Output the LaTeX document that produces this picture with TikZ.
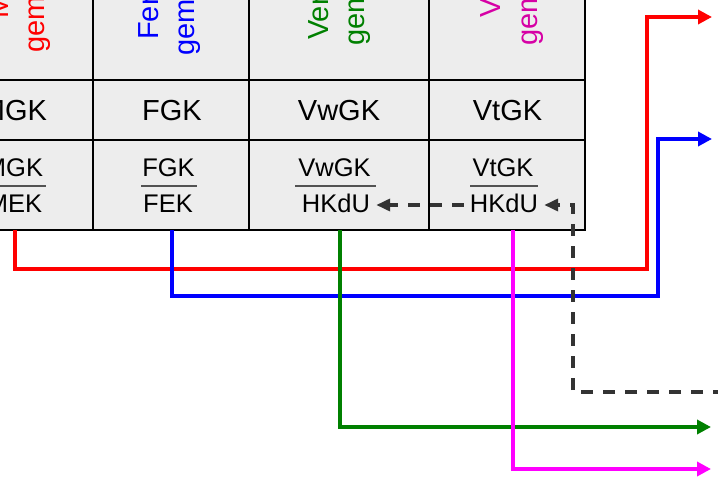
\documentclass[tikz,border=0pt]{standalone}
\usepackage{fontspec}
\setmainfont{Liberation Sans}
\usetikzlibrary{arrows.meta}
\definecolor{cellgray}{RGB}{237,237,237}
\definecolor{dashgray}{RGB}{51,51,51}
\definecolor{mgkred}{RGB}{255,0,0}
\definecolor{fgkblue}{RGB}{0,0,255}
\definecolor{vwgkgreen}{RGB}{0,128,0}
\definecolor{vtgktext}{RGB}{214,0,165}
\definecolor{vtgkline}{RGB}{255,0,255}
\tikzset{
  headtext/.style={rotate=90,anchor=base west,inner sep=0pt,font=\fontsize{29bp}{36bp}\selectfont},
  rowtext/.style={anchor=base,inner sep=0pt,font=\fontsize{29bp}{36bp}\selectfont},
  fractext/.style={anchor=base,inner sep=0pt,font=\fontsize{25.5bp}{30bp}\selectfont},
  fracline/.style={draw=dashgray!85,line width=1.5bp},
  gridline/.style={line width=2.5bp},
  flowline/.style={line width=3.5bp,-{Triangle[length=14bp,width=14bp]}},
  backline/.style={color=dashgray,line width=3.5bp,dash pattern=on 12bp off 10bp,-{Triangle[length=14bp,width=12bp]}},
}
\begin{document}
\begin{tikzpicture}[x=1bp,y=-1bp,line join=miter]
\useasboundingbox (0,0) rectangle (718,481);
\clip (0,0) rectangle (718,481);
%% table
\filldraw [fill=cellgray,draw=black,gridline] (-65,-200) rectangle (585,230);
\draw [gridline] (-65,80) -- (585,80);
\draw [gridline] (-65,140) -- (585,140);
\draw [gridline] (93,-200) -- (93,230);
\draw [gridline] (249,-200) -- (249,230);
\draw [gridline] (429,-200) -- (429,230);
%% headers
\node (head_m1) at (8,19) [headtext,text=mgkred] {Material-};
\node (head_m2) at (44,53) [headtext,text=mgkred] {gemeinkosten};
\node (head_f1) at (158,40) [headtext,text=fgkblue] {Fertigungs-};
\node (head_f2) at (194,56) [headtext,text=fgkblue] {gemeinkosten};
\node (head_vw1) at (328,40) [headtext,text=vwgkgreen] {Verwaltungs-};
\node (head_vw2) at (364,46) [headtext,text=vwgkgreen] {gemeinkosten};
\node (head_vt1) at (500,18) [headtext,text=vtgktext] {Vertriebs-};
\node (head_vt2) at (537,46) [headtext,text=vtgktext] {gemeinkosten};
%% short names
\node (mgk) at (14,121) [rowtext] {MGK};
\node (fgk) at (172,121) [rowtext] {FGK};
\node (vwgk) at (339,121) [rowtext] {VwGK};
\node (vtgk) at (507.5,121) [rowtext] {VtGK};
%% rates
\node (mgk_num) at (14,177) [fractext] {MGK};
\node (mgk_den) at (14.5,213) [fractext] {MEK};
\node (fgk_num) at (168.5,177) [fractext] {FGK};
\node (fgk_den) at (168,213) [fractext] {FEK};
\node (vwgk_num) at (334.5,177) [fractext] {VwGK};
\node (vwgk_den) at (336,213) [fractext] {HKdU};
\node (vtgk_num) at (503,177) [fractext] {VtGK};
\node (vtgk_den) at (504,213) [fractext] {HKdU};
\draw [fracline] (-17,186) -- (46,186);
\draw [fracline] (141,186) -- (197,186);
\draw [fracline] (295,186) -- (376,186);
\draw [fracline] (470,186) -- (538,186);
%% connectors
\coordinate (mgk_out) at (15,230);
\coordinate (mgk_end) at (712,17);
\coordinate (fgk_out) at (172,230);
\coordinate (fgk_end) at (712,139);
\coordinate (vwgk_out) at (340,230);
\coordinate (vwgk_end) at (711,427);
\coordinate (vtgk_out) at (513,230);
\coordinate (vtgk_end) at (711,469);
\coordinate (hkdu_in) at (725,392);
\draw [flowline,color=mgkred] (mgk_out) -- (15,269) -| (647,17) -- (mgk_end);
\draw [flowline,color=fgkblue] (fgk_out) -- (172,296) -| (658,139) -- (fgk_end);
\draw [flowline,color=vwgkgreen] (vwgk_out) |- (vwgk_end);
\draw [flowline,color=vtgkline] (vtgk_out) |- (vtgk_end);
\draw [backline] (hkdu_in) -| (573,205) -- ([xshift=6bp]vtgk_den.base east |- 0,205);
\draw [backline] ([xshift=-6bp]vtgk_den.base west |- 0,205) -- ([xshift=6bp]vwgk_den.base east |- 0,205);
%
\end{tikzpicture}
\end{document}
